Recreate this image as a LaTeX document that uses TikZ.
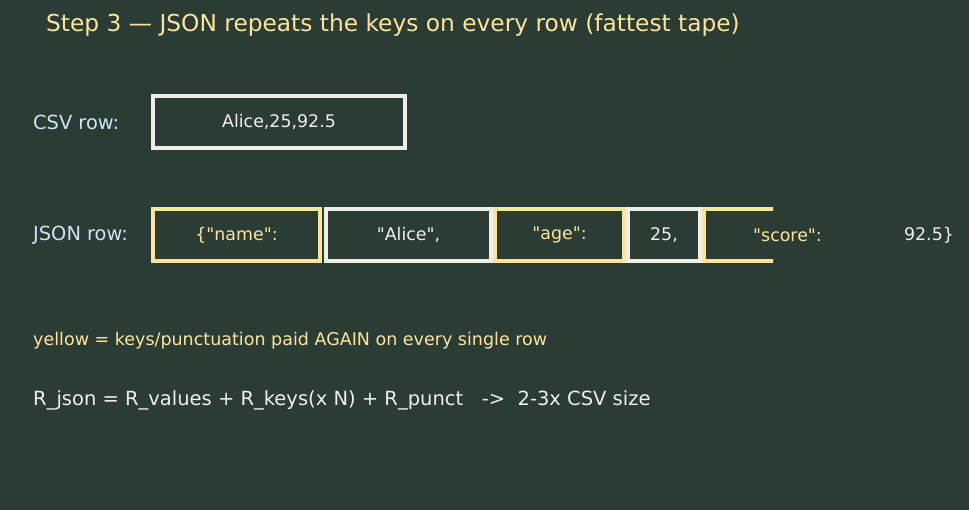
\documentclass[tikz,border=0pt]{standalone}
\usepackage{fontspec}
\setmainfont{DejaVu Sans}[Ligatures=TeXOff]
\definecolor{bgcol}{RGB}{43,60,52}
\definecolor{keyyel}{RGB}{252,228,158}
\definecolor{valwhite}{RGB}{238,240,232}
\definecolor{lblblue}{RGB}{205,228,245}
\tikzset{
  keybox/.style={draw=keyyel, line width=4pt, minimum height=52pt, inner sep=0pt},
  valbox/.style={draw=valwhite, line width=4pt, minimum height=52pt, inner sep=0pt},
  keytext/.style={text=keyyel, font=\fontsize{17.4}{21}\selectfont},
  valtext/.style={text=valwhite, font=\fontsize{17.4}{21}\selectfont},
  rowlabel/.style={text=lblblue, anchor=west, inner sep=0pt, font=\fontsize{19.4}{23}\selectfont}
}
\begin{document}
\begin{tikzpicture}[x=1pt, y=-1pt]
        \fill[bgcol] (0,0) rectangle (969,510);
        \useasboundingbox (0,0) rectangle (969,510);

        % title
        \node[anchor=west, inner sep=0pt, text=keyyel, font=\fontsize{23.3}{28}\selectfont] (title) at (46,25)
            {Step 3 — JSON repeats the keys on every row (fattest tape)};

        % CSV row
        \node[rowlabel] (csvlbl) at (33,122) {CSV row:};
        \node[valbox, minimum width=252pt, valtext] (csvbox) at (279,122) {Alice,25,92.5};

        % JSON row
        \node[rowlabel] (jsonlbl) at (33,235) {JSON row:};
        \node[keybox, minimum width=167pt, keytext] (jname) at (236.5,235) {\{"name":};
        \node[valbox, minimum width=165pt, valtext] (jalice) at (408.5,235) {"Alice",};
        \node[keybox, minimum width=129pt, keytext] (jage) at (559.5,235) {"age":};
        \node[valbox, minimum width=72pt, valtext] (jnum) at (664,235) {25,};

        % the tape runs off the edge
        \begin{scope}
            \clip (690,200) rectangle (773,270);
            \node[keybox, minimum width=167pt] (jscore) at (787.5,235) {};
        \end{scope}
        \node[keytext] (jscoretxt) at (jscore) {"score":};
        \node[valtext] (jlast) at (929,235) {92.5\}};

        % notes
        \node[anchor=west, inner sep=0pt, text=keyyel, font=\fontsize{17.5}{21}\selectfont] (note) at (33,341)
            {yellow = keys/punctuation paid AGAIN on every single row};
        \node[anchor=west, inner sep=0pt, text=valwhite, font=\fontsize{19.5}{23}\selectfont] (formula) at (33,400)
            {R\_json = R\_values + R\_keys(x N) + R\_punct\ \ \ ->\ \ 2-3x CSV size};
    \end{tikzpicture}
\end{document}
